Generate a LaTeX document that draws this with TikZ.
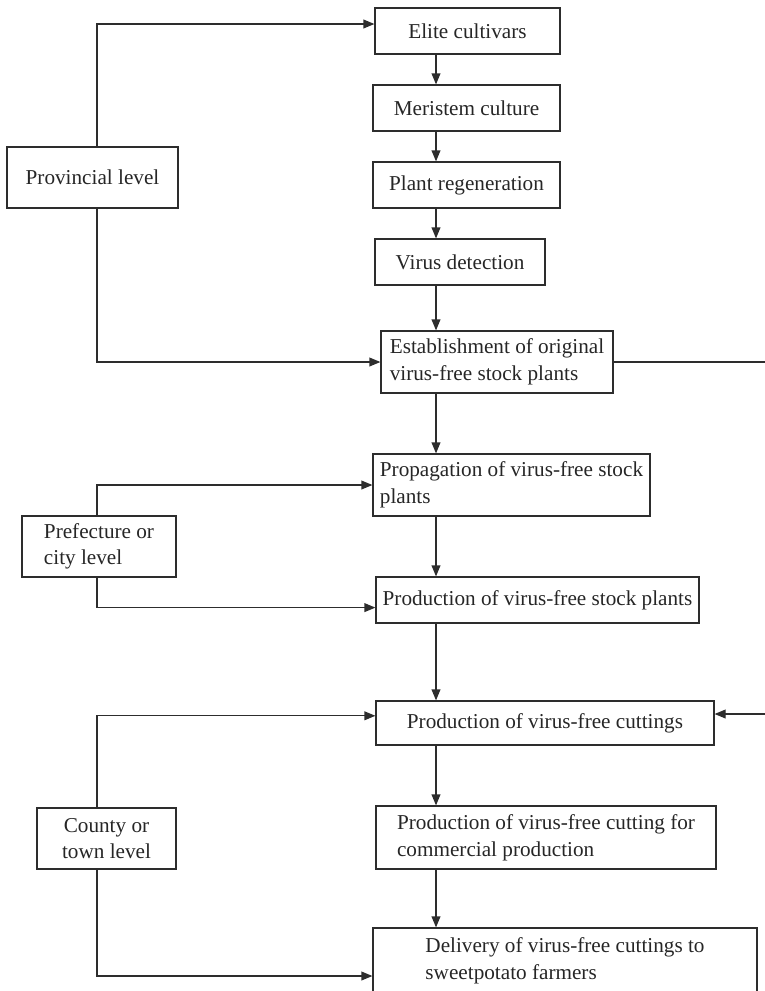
\documentclass[tikz,border=0pt]{standalone}
\usepackage{fontspec}
\setmainfont{Liberation Serif}
\usetikzlibrary{arrows.meta,positioning,calc}
\definecolor{lineink}{RGB}{45,45,45}

\tikzset{
  stepbox/.style={draw=lineink,line width=0.6pt,inner sep=0pt,text=black!85,
    font=\fontsize{10.6pt}{13.3pt}\selectfont},
  flow/.style={draw=lineink,line width=0.6pt,-{Triangle[length=5.5pt,width=4.4pt]}},
}

\begin{document}
\begin{tikzpicture}[x=0.5pt,y=-0.5pt]
  \useasboundingbox (0,0) rectangle (765,991);
  % main column
  \node[stepbox,minimum width=92.5pt,minimum height=23pt] (elite) at (467.5,31) {Elite cultivars};
  \node[stepbox,minimum width=93.5pt,minimum height=23pt] (meristem) at (466.5,108) {Meristem culture};
  \node[stepbox,minimum width=93.5pt,minimum height=23pt] (regen) at (466.5,185) {Plant regeneration};
  \node[stepbox,minimum width=85pt,minimum height=23pt] (detect) at (460,262) {Virus detection};
  \node[stepbox,align=left,minimum width=116pt,minimum height=31pt] (origin) at (497,362)
    {Establishment of original\\virus-free stock plants};
  \node[stepbox,align=left,minimum width=138.5pt,minimum height=31pt] (propag) at (511.5,485)
    {Propagation of virus-free stock\\plants};
  \node[stepbox,minimum width=161.5pt,minimum height=23pt] (prodstock) at (537.5,600)
    {Production of virus-free stock plants};
  \node[stepbox,minimum width=169pt,minimum height=22pt] (cuttings) at (545,723)
    {Production of virus-free cuttings};
  \node[stepbox,align=left,minimum width=170pt,minimum height=31.5pt] (commerc) at (546,837.5)
    {Production of virus-free cutting for\\commercial production};
  \node[stepbox,align=left,minimum width=192pt,minimum height=33pt] (deliver) at (565,961)
    {Delivery of virus-free cuttings to\\sweetpotato farmers};
  % levels
  \node[stepbox,minimum width=85.5pt,minimum height=30.5pt] (prov) at (92.5,177.5) {Provincial level};
  \node[stepbox,align=left,minimum width=77pt,minimum height=30.5pt] (pref) at (99,546.5)
    {Prefecture or\\city level};
  \node[stepbox,align=center,minimum width=69.5pt,minimum height=30.5pt] (county) at (106.5,838.5)
    {County or\\town level};
  % columns of the connectors
  \coordinate (mainx) at (436,0);
  \coordinate (lvlx) at (97,0);
  \coordinate (edgex) at (767,0);
  % vertical flow
  \foreach \a/\b in {elite/meristem,meristem/regen,regen/detect,detect/origin,origin/propag,
      propag/prodstock,prodstock/cuttings,cuttings/commerc,commerc/deliver}{
    \draw[flow] (\a.south -| mainx) -- (\b.north -| mainx);
  }
  % links from the levels
  \draw[flow] (prov.north -| lvlx) |- ([yshift=3.5pt]elite.west);
  \draw[flow] (prov.south -| lvlx) |- (origin.west);
  \draw[flow] (pref.north -| lvlx) |- (propag.west);
  \draw[flow] (pref.south -| lvlx) |- ([yshift=-3.8pt]prodstock.west);
  \draw[flow] (county.north -| lvlx) |- ([yshift=3.6pt]cuttings.west);
  \draw[flow] (county.south -| lvlx) |- ([yshift=-7.5pt]deliver.west);
  % right-hand link
  \draw[flow] (origin.east) -- (origin.east -| edgex) |- ([yshift=4.5pt]cuttings.east);
\end{tikzpicture}
\end{document}
